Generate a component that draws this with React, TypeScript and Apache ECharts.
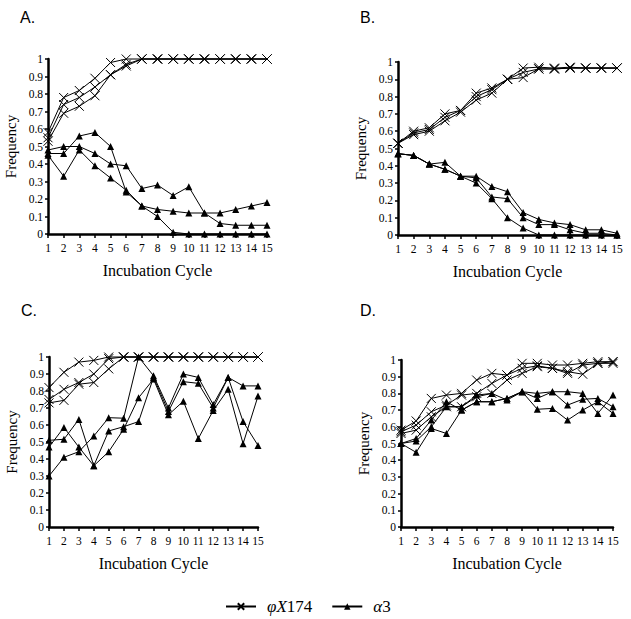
import React, { useEffect, useRef } from "react";
import * as echarts from "echarts";

const cycles = ["1","2","3","4","5","6","7","8","9","10","11","12","13","14","15"];
const panelLabels = ["A.", "B.", "C.", "D."];

// Panel A
const aPhi1 = [0.58, 0.78, 0.82, 0.89, 0.98, 1.0, 1, 1, 1, 1, 1, 1, 1, 1, 1];
const aPhi2 = [0.55, 0.74, 0.78, 0.84, 0.91, 0.97, 1, 1, 1, 1, 1, 1, 1, 1, 1];
const aPhi3 = [0.53, 0.69, 0.73, 0.79, 0.91, 0.96, 1, 1, 1, 1, 1, 1, 1, 1, 1];
const aAlpha1 = [0.45, 0.33, 0.48, 0.39, 0.32, 0.25, 0.16, 0.10, 0.01, 0, 0, 0, 0, 0, 0];
const aAlpha2 = [0.46, 0.46, 0.56, 0.58, 0.50, 0.24, 0.16, 0.14, 0.13, 0.12, 0.12, 0.12, 0.14, 0.16, 0.18];
const aAlpha3 = [0.48, 0.50, 0.50, 0.46, 0.40, 0.39, 0.26, 0.28, 0.22, 0.27, 0.12, 0.06, 0.05, 0.05, 0.05];

// Panel B
const bPhi1 = [0.53, 0.60, 0.62, 0.70, 0.72, 0.82, 0.85, 0.90, 0.965, 0.97, 0.965, 0.97, 0.965, 0.965, 0.965];
const bPhi2 = [0.53, 0.59, 0.61, 0.68, 0.72, 0.80, 0.84, 0.90, 0.91, 0.96, 0.96, 0.965, 0.965, 0.965, 0.965];
const bPhi3 = [0.53, 0.58, 0.60, 0.66, 0.71, 0.78, 0.82, 0.90, 0.94, 0.96, 0.96, 0.965, 0.965, 0.965, 0.965];
const bAlpha1 = [0.47, 0.46, 0.41, 0.42, 0.34, 0.34, 0.28, 0.25, 0.13, 0.09, 0.07, 0.06, 0.03, 0.03, 0.01];
const bAlpha2 = [0.47, 0.46, 0.41, 0.38, 0.34, 0.33, 0.22, 0.21, 0.10, 0.06, 0.06, 0.03, 0.01, 0.01, 0.0];
const bAlpha3 = [0.47, 0.46, 0.41, 0.38, 0.34, 0.30, 0.21, 0.10, 0.04, 0.0, 0.0, 0.0, 0.0, 0.0, 0.0];

// Panel C
const cPhi1 = [0.82, 0.91, 0.97, 0.98, 1.0, 1.0, 1, 1, 1, 1, 1, 1, 1, 1, 1];
const cPhi2 = [0.75, 0.81, 0.85, 0.90, 0.99, 1.0, 1, 1, 1, 1, 1, 1, 1, 1, 1];
const cPhi3 = [0.73, 0.745, 0.84, 0.85, 0.93, 1.0, 1, 1, 1, 1, 1, 1, 1, 1, 1];
const cAlpha1 = [0.30, 0.41, 0.443, 0.535, 0.643, 0.64, 1.0, 0.89, 0.70, 0.90, 0.88, 0.72, 0.88, 0.83, 0.83];
const cAlpha2 = [0.47, 0.586, 0.47, 0.36, 0.565, 0.59, 0.62, 0.88, 0.68, 0.855, 0.845, 0.70, 0.88, 0.62, 0.48];
const cAlpha3 = [0.51, 0.516, 0.633, 0.36, 0.443, 0.575, 0.76, 0.87, 0.66, 0.74, 0.52, 0.685, 0.81, 0.49, 0.77];

// Panel D
const dPhi1 = [0.58, 0.635, 0.77, 0.79, 0.80, 0.88, 0.92, 0.91, 0.98, 0.98, 0.97, 0.97, 0.98, 0.99, 0.99];
const dPhi2 = [0.57, 0.61, 0.69, 0.73, 0.79, 0.80, 0.86, 0.91, 0.95, 0.965, 0.95, 0.93, 0.915, 0.98, 0.98];
const dPhi3 = [0.56, 0.58, 0.66, 0.72, 0.72, 0.78, 0.80, 0.88, 0.92, 0.96, 0.95, 0.92, 0.97, 0.98, 0.99];
const dAlpha1 = [0.50, 0.53, 0.64, 0.75, 0.70, 0.75, 0.75, 0.77, 0.81, 0.80, 0.81, 0.81, 0.80, 0.68, 0.79];
const dAlpha2 = [0.50, 0.515, 0.60, 0.72, 0.72, 0.79, 0.80, 0.76, 0.81, 0.77, 0.81, 0.73, 0.765, 0.77, 0.72];
const dAlpha3 = [0.50, 0.447, 0.59, 0.56, 0.70, 0.75, 0.75, 0.77, 0.81, 0.705, 0.71, 0.64, 0.70, 0.75, 0.68];

const phiSets = [
  [aPhi1, aPhi2, aPhi3],
  [bPhi1, bPhi2, bPhi3],
  [cPhi1, cPhi2, cPhi3],
  [dPhi1, dPhi2, dPhi3],
];
const alphaSets = [
  [aAlpha1, aAlpha2, aAlpha3],
  [bAlpha1, bAlpha2, bAlpha3],
  [cAlpha1, cAlpha2, cAlpha3],
  [dAlpha1, dAlpha2, dAlpha3],
];

const PHI = "φX174";
const ALPHA = "α3";

const grids = [
  { left: 48, top: 59, width: 219, height: 175 },
  { left: 398, top: 62, width: 219, height: 173 },
  { left: 49, top: 357, width: 209, height: 170 },
  { left: 401, top: 360, width: 212, height: 167 },
];
const labelPos = [
  { x: 20, y: 9 },
  { x: 360, y: 9 },
  { x: 21, y: 302 },
  { x: 360, y: 302 },
];

const SERIF = "Liberation Serif";
const SANS = "Liberation Sans";
const CROSS = "path://M0,0L10,10M10,0L0,10";

export default function App() {
  const ref = useRef<HTMLDivElement>(null);
  useEffect(() => {
    if (!ref.current) return;
    const chart = echarts.init(ref.current, null, { renderer: "svg" });
    const xAxis: any[] = [];
    const yAxis: any[] = [];
    const series: any[] = [];
    grids.forEach((g, i) => {
      xAxis.push({
        type: "category",
        gridIndex: i,
        data: cycles,
        boundaryGap: false,
        name: "Incubation Cycle",
        nameLocation: "middle",
        nameGap: 28,
        nameTextStyle: { fontFamily: SERIF, fontSize: 16, color: "#000" },
        axisLine: { lineStyle: { color: "#000", width: 2.5 } },
        axisTick: { alignWithLabel: true, length: 4, lineStyle: { color: "#000", width: 1.5 } },
        axisLabel: { interval: 0, margin: 8, fontFamily: SERIF, fontSize: 11.5, color: "#000" },
        splitLine: { show: false },
      });
      yAxis.push({
        type: "value",
        gridIndex: i,
        min: 0,
        max: 1,
        interval: 0.1,
        name: "Frequency",
        nameLocation: "middle",
        nameGap: 30,
        nameTextStyle: { fontFamily: SERIF, fontSize: 15, color: "#000" },
        axisLine: { show: true, lineStyle: { color: "#000", width: 2.5 } },
        axisTick: { show: true, length: 3, lineStyle: { color: "#000", width: 1.5 } },
        axisLabel: {
          margin: 5,
          fontFamily: SERIF,
          fontSize: 11.5,
          color: "#000",
          formatter: (v: number) => String(Math.round(v * 10) / 10),
        },
        splitLine: { show: false },
      });
      phiSets[i].forEach((d) => {
        series.push({
          type: "line",
          name: PHI,
          xAxisIndex: i,
          yAxisIndex: i,
          data: d,
          symbol: CROSS,
          symbolSize: 9,
          clip: false,
          lineStyle: { color: "#000", width: 1 },
          itemStyle: { color: "#000", borderColor: "#000", borderWidth: 1 },
        });
      });
      alphaSets[i].forEach((d) => {
        series.push({
          type: "line",
          name: ALPHA,
          xAxisIndex: i,
          yAxisIndex: i,
          data: d,
          symbol: "triangle",
          symbolSize: 7,
          clip: false,
          lineStyle: { color: "#000", width: 1 },
          itemStyle: { color: "#000", borderColor: "#000", borderWidth: 0 },
        });
      });
    });

    chart.setOption({
      animation: false,
      backgroundColor: "#fff",
      textStyle: { fontFamily: SERIF },
      grid: grids.map((g) => ({ ...g, containLabel: false })),
      xAxis,
      yAxis,
      series,
      legend: {
        data: [PHI, ALPHA],
        left: 220,
        top: 593,
        itemWidth: 30,
        itemHeight: 8,
        itemGap: 19,
        formatter: (name: string) =>
          name === PHI ? "{i|φX}{n|174}" : "{i|α}{n|3}",
        textStyle: {
          fontFamily: SERIF,
          fontSize: 17,
          padding: [0, 0, 0, 6],
          rich: {
            i: { fontFamily: SERIF, fontStyle: "italic", fontSize: 17, color: "#000" },
            n: { fontFamily: SERIF, fontSize: 17, color: "#000" },
          },
        },
      },
      graphic: panelLabels.map((t, i) => ({
        type: "text",
        left: labelPos[i].x,
        top: labelPos[i].y,
        style: { text: t, fontFamily: SANS, fontSize: 16, fill: "#000" },
      })),
    });
    return () => chart.dispose();
  }, []);
  return (
    <div
      ref={ref}
      style={{ position: "fixed", left: 0, top: 0, width: 631, height: 619 }}
    />
  );
}
